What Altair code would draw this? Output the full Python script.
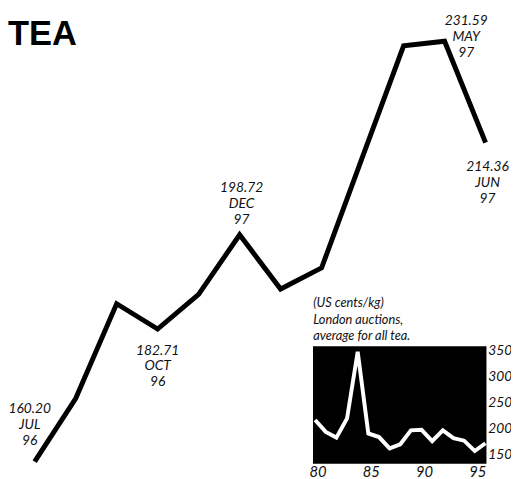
import altair as alt
import pandas as pd

# Main series: monthly tea price, Jul 96 - Jun 97
months = ["JUL", "AUG", "SEP", "OCT", "NOV", "DEC", "JAN", "FEB", "MAR", "APR", "MAY", "JUN"]
label_years = ["96", "96", "96", "96", "96", "97", "97", "97", "97", "97", "97", "97"]
prices = [160.20, 170.9, 187.0, 182.71, 188.6, 198.72, 189.5, 193.1, 212.0, 230.8, 231.59, 214.36]
annotated = [0, 3, 5, 10, 11]

# Inset: annual averages, London auctions
hist_years = list(range(1980, 1997))
hist_prices = [217, 194, 183, 220, 349, 191, 184, 162, 170, 197, 198, 176, 197, 182, 177, 157, 172]
y_ticks = [150, 200, 250, 300, 350]
x_ticks = [1980, 1985, 1990, 1995]
x_tick_labels = ["80", "85", "90", "95"]
caption = ["(US cents/kg)", "London auctions,", "average for all tea."]

FONT = "Lato"

main_df = pd.DataFrame({"i": list(range(len(prices))), "price": prices, "month": months, "yr": label_years})
main_df["label"] = [f"{p:.2f}\n{m}\n{y}" for p, m, y in zip(prices, months, label_years)]

mx = alt.Scale(domain=[-0.65, 11.62], nice=False, zero=False)
my = alt.Scale(domain=[157.86, 236.61], nice=False, zero=False)

base = alt.Chart(main_df)
line = base.mark_line(color="black", strokeWidth=5, strokeJoin="miter").encode(
    x=alt.X("i:Q", scale=mx, axis=None),
    y=alt.Y("price:Q", scale=my, axis=None),
)

offsets = {0: (-5, -60), 3: (0, 15), 5: (2, -54), 10: (22, -27), 11: (2, 18)}
ann_layers = []
for idx in annotated:
    dx, dy = offsets[idx]
    ann_layers.append(
        base.transform_filter(alt.datum.i == idx).mark_text(
            font=FONT, fontStyle="italic", fontSize=14, lineBreak="\n", lineHeight=16,
            align="center", baseline="top", dx=dx, dy=dy, color="#111"
        ).encode(
            x=alt.X("i:Q", scale=mx, axis=None),
            y=alt.Y("price:Q", scale=my, axis=None),
            text="label:N",
        )
    )

title = alt.Chart(pd.DataFrame({"t": ["TEA"]})).mark_text(
    font="Liberation Sans", fontWeight="bold", fontSize=35, align="left", baseline="alphabetic", color="black"
).encode(x=alt.value(0), y=alt.value(34), text="t:N")

main_layer = alt.layer(line, *ann_layers, title)

# Inset
ix = alt.Scale(domain=[1980, 1996], range=[312, 485], nice=False, zero=False)
iy = alt.Scale(domain=[150, 350], range=[450, 345], nice=False, zero=False)

hist_df = pd.DataFrame({"year": hist_years, "price": hist_prices})
panel_df = pd.DataFrame({
    "x0": [min(hist_years) - 0.2], "x1": [max(hist_years) + 0.1],
    "y0": [min(y_ticks) - 17.6], "y1": [max(y_ticks) + 9.8],
})
panel = alt.Chart(panel_df).mark_rect(color="black").encode(
    x=alt.X("x0:Q", scale=ix, axis=None), x2="x1:Q",
    y=alt.Y("y0:Q", scale=iy, axis=None), y2="y1:Q",
)
hist_line = alt.Chart(hist_df).mark_line(color="white", strokeWidth=4, strokeJoin="miter").encode(
    x=alt.X("year:Q", scale=ix, axis=None),
    y=alt.Y("price:Q", scale=iy, axis=None),
)
ytick_df = pd.DataFrame({"v": y_ticks, "x": [max(hist_years)] * len(y_ticks), "lab": [str(v) for v in y_ticks]})
ytick_text = alt.Chart(ytick_df).mark_text(
    font=FONT, fontStyle="italic", fontSize=14, align="left", baseline="middle", dx=3, color="#111"
).encode(
    x=alt.X("x:Q", scale=ix, axis=None),
    y=alt.Y("v:Q", scale=iy, axis=None),
    text="lab:N",
)
xtick_df = pd.DataFrame({"yr": x_ticks, "v": [min(y_ticks)] * len(x_ticks), "lab": x_tick_labels})
xtick_text = alt.Chart(xtick_df).mark_text(
    font=FONT, fontStyle="italic", fontSize=15, align="center", baseline="middle", dx=3, dy=18, color="#111"
).encode(
    x=alt.X("yr:Q", scale=ix, axis=None),
    y=alt.Y("v:Q", scale=iy, axis=None),
    text="lab:N",
)
cap_df = pd.DataFrame({"yr": [min(hist_years)], "v": [max(y_ticks)], "t": ["\n".join(caption)]})
cap_text = alt.Chart(cap_df).mark_text(
    font=FONT, fontStyle="italic", fontSize=13, align="left", baseline="top", lineBreak="\n", lineHeight=17,
    dx=-2, dy=-55, color="#111"
).encode(
    x=alt.X("yr:Q", scale=ix, axis=None),
    y=alt.Y("v:Q", scale=iy, axis=None),
    text="t:N",
)

inset_layer = alt.layer(panel, hist_line, ytick_text, xtick_text, cap_text)

chart = alt.layer(main_layer, inset_layer).resolve_scale(x="independent", y="independent").properties(
    width=511, height=471, padding=0, autosize="none", background="white"
).configure_view(strokeWidth=0)

chart.save("out.html", embed_options={"renderer": "svg", "actions": False})
